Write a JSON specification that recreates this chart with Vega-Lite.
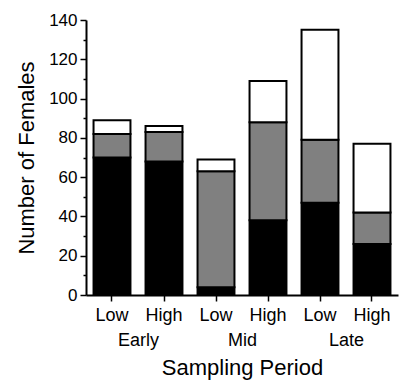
{
  "$schema": "https://vega.github.io/schema/vega-lite/v6.json",
  "width": 312,
  "height": 275,
  "autosize": {"type": "none"},
  "padding": {"left": 86, "top": 20, "right": 3, "bottom": 87},
  "background": "white",
  "config": {
    "font": "Liberation Sans",
    "view": {"stroke": null},
    "axis": {"labelFont": "Liberation Sans", "titleFont": "Liberation Sans", "labelColor": "black", "titleColor": "black", "domainColor": "black", "tickColor": "black", "grid": false, "titleFontWeight": "normal"}
  },
  "datasets": {
    "bars": [
      {"bar": "Early-Low", "level": "Low", "seg": "a", "ord": 1, "value": 70},
      {"bar": "Early-Low", "level": "Low", "seg": "b", "ord": 2, "value": 12},
      {"bar": "Early-Low", "level": "Low", "seg": "c", "ord": 3, "value": 7},
      {"bar": "Early-High", "level": "High", "seg": "a", "ord": 1, "value": 68},
      {"bar": "Early-High", "level": "High", "seg": "b", "ord": 2, "value": 15},
      {"bar": "Early-High", "level": "High", "seg": "c", "ord": 3, "value": 3},
      {"bar": "Mid-Low", "level": "Low", "seg": "a", "ord": 1, "value": 4},
      {"bar": "Mid-Low", "level": "Low", "seg": "b", "ord": 2, "value": 59},
      {"bar": "Mid-Low", "level": "Low", "seg": "c", "ord": 3, "value": 6},
      {"bar": "Mid-High", "level": "High", "seg": "a", "ord": 1, "value": 38},
      {"bar": "Mid-High", "level": "High", "seg": "b", "ord": 2, "value": 50},
      {"bar": "Mid-High", "level": "High", "seg": "c", "ord": 3, "value": 21},
      {"bar": "Late-Low", "level": "Low", "seg": "a", "ord": 1, "value": 47},
      {"bar": "Late-Low", "level": "Low", "seg": "b", "ord": 2, "value": 32},
      {"bar": "Late-Low", "level": "Low", "seg": "c", "ord": 3, "value": 56},
      {"bar": "Late-High", "level": "High", "seg": "a", "ord": 1, "value": 26},
      {"bar": "Late-High", "level": "High", "seg": "b", "ord": 2, "value": 16},
      {"bar": "Late-High", "level": "High", "seg": "c", "ord": 3, "value": 35}
    ],
    "periods": [
      {"period": "Early"},
      {"period": "Mid"},
      {"period": "Late"}
    ]
  },
  "layer": [
    {
      "data": {"name": "bars"},
      "mark": {"type": "bar", "stroke": "black", "strokeWidth": 2},
      "encoding": {
        "x": {
          "field": "bar",
          "type": "nominal",
          "sort": ["Early-Low", "Early-High", "Mid-Low", "Mid-High", "Late-Low", "Late-High"],
          "scale": {"paddingInner": 0.29, "paddingOuter": 0.145},
          "axis": {
            "title": null,
            "labelExpr": "split(datum.value, '-')[1]",
            "labelAngle": 0,
            "labelFontSize": 18,
            "labelPadding": 5,
            "tickSize": 6,
            "tickWidth": 1.5,
            "domainWidth": 2
          }
        },
        "y": {
          "field": "value",
          "type": "quantitative",
          "stack": "zero",
          "scale": {"domain": [0, 140], "nice": false},
          "axis": {
            "title": "Number of Females",
            "titleFontSize": 22,
            "titlePadding": 10,
            "values": [0, 10, 20, 30, 40, 50, 60, 70, 80, 90, 100, 110, 120, 130, 140],
            "labelExpr": "datum.value % 20 === 0 ? datum.label : ''",
            "labelFontSize": 17,
            "labelPadding": 3,
            "tickSize": {"condition": {"test": "datum.value % 20 === 0", "value": 6}, "value": 3},
            "tickWidth": 1.5,
            "domainWidth": 2
          }
        },
        "color": {
          "field": "seg",
          "type": "nominal",
          "scale": {"domain": ["a", "b", "c"], "range": ["#000000", "#808080", "#ffffff"]},
          "legend": null
        },
        "order": {"field": "ord", "type": "quantitative"}
      }
    },
    {
      "data": {"name": "periods"},
      "mark": {"type": "text", "text": ""},
      "encoding": {
        "x": {
          "field": "period",
          "type": "nominal",
          "sort": ["Early", "Mid", "Late"],
          "axis": {
            "orient": "bottom",
            "offset": 32,
            "title": "Sampling Period",
            "titleFontSize": 22,
            "titlePadding": 8,
            "labelAngle": 0,
            "labelFontSize": 18,
            "labelPadding": 4,
            "ticks": false,
            "domain": false
          }
        }
      }
    }
  ],
  "resolve": {"scale": {"x": "independent"}}
}
